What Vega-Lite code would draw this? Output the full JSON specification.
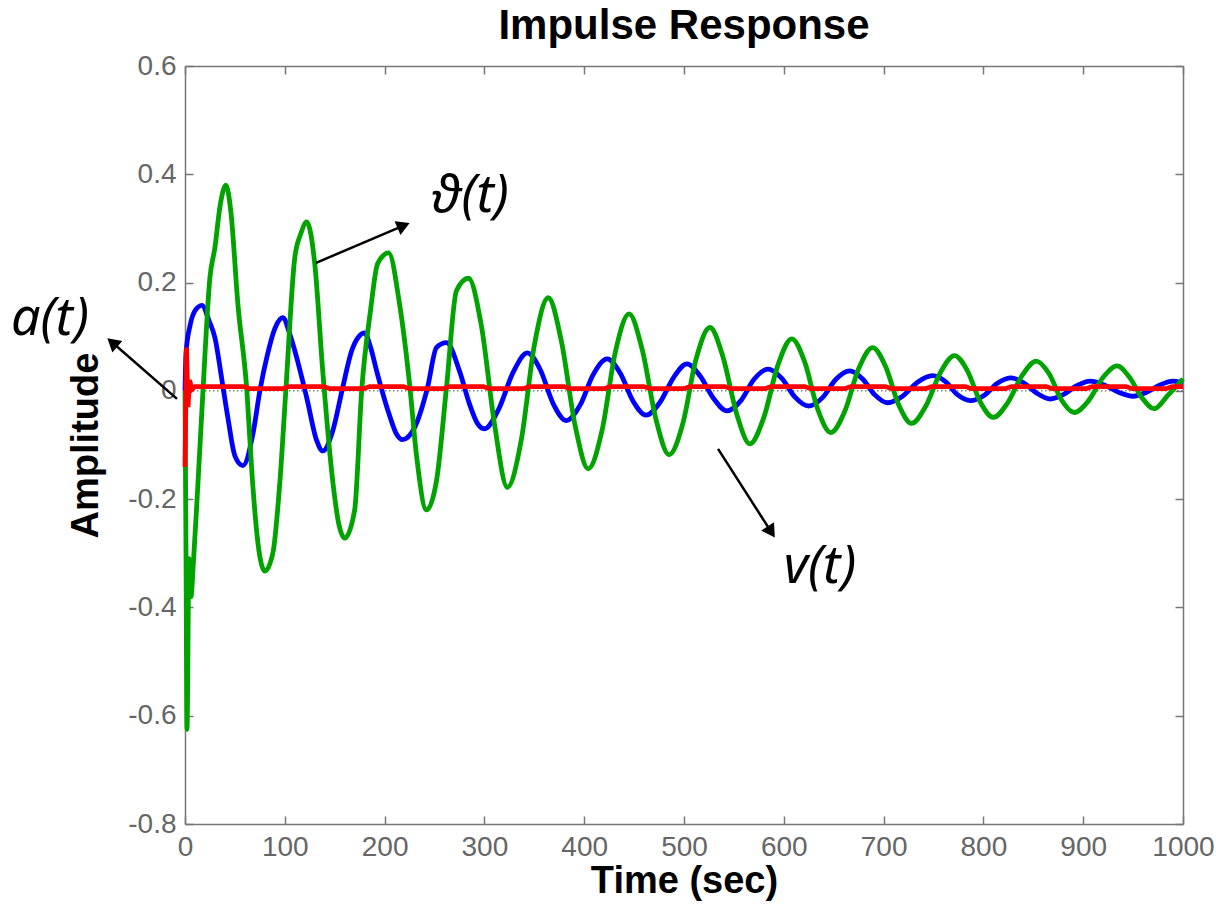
{
  "$schema": "https://vega.github.io/schema/vega-lite/v6.json",
  "width": 998,
  "height": 758,
  "autosize": {"type": "none"},
  "padding": {"left": 185, "top": 66, "right": 33, "bottom": 96},
  "background": "white",
  "config": {"view": {"stroke": null}, "font": "Liberation Sans"},
  "title": {"text": "Impulse Response", "font": "Liberation Sans", "fontSize": 42, "fontWeight": "bold", "color": "black", "anchor": "middle", "offset": 4},
  "datasets": {
    "zero": [{"t": 0, "y": 0}, {"t": 1000, "y": 0}],
    "series": [
      {"s": "v", "t": 0, "y": 0}, {"s": "v", "t": 1, "y": 0.07}, {"s": "v", "t": 5, "y": 0.12}, {"s": "v", "t": 10, "y": 0.148}, {"s": "v", "t": 17, "y": 0.158}, {"s": "v", "t": 24, "y": 0.13}, {"s": "v", "t": 30, "y": 0.098}, {"s": "v", "t": 37, "y": 0.02}, {"s": "v", "t": 43, "y": -0.05}, {"s": "v", "t": 50, "y": -0.12}, {"s": "v", "t": 58, "y": -0.138}, {"s": "v", "t": 68, "y": -0.08}, {"s": "v", "t": 75, "y": 0}, {"s": "v", "t": 82, "y": 0.062}, {"s": "v", "t": 90, "y": 0.115}, {"s": "v", "t": 98, "y": 0.135}, {"s": "v", "t": 105, "y": 0.105}, {"s": "v", "t": 112, "y": 0.061}, {"s": "v", "t": 122, "y": -0.013}, {"s": "v", "t": 132, "y": -0.092}, {"s": "v", "t": 138, "y": -0.111}, {"s": "v", "t": 148, "y": -0.074}, {"s": "v", "t": 158, "y": 0.006}, {"s": "v", "t": 167, "y": 0.074}, {"s": "v", "t": 174, "y": 0.1}, {"s": "v", "t": 180, "y": 0.107}, {"s": "v", "t": 186, "y": 0.08}, {"s": "v", "t": 192, "y": 0.037}, {"s": "v", "t": 204, "y": -0.04}, {"s": "v", "t": 212, "y": -0.08}, {"s": "v", "t": 218, "y": -0.09}, {"s": "v", "t": 230, "y": -0.068}, {"s": "v", "t": 243, "y": 0.006}, {"s": "v", "t": 252, "y": 0.08}, {"s": "v", "t": 262, "y": 0.089}, {"s": "v", "t": 275, "y": 0.037}, {"s": "v", "t": 285, "y": -0.024}, {"s": "v", "t": 293, "y": -0.06}, {"s": "v", "t": 300, "y": -0.07}, {"s": "v", "t": 314, "y": -0.035}, {"s": "v", "t": 329, "y": 0.035}, {"s": "v", "t": 343, "y": 0.07}, {"s": "v", "t": 356, "y": 0.039}, {"s": "v", "t": 369, "y": -0.024}, {"s": "v", "t": 382, "y": -0.055}, {"s": "v", "t": 396, "y": -0.026}, {"s": "v", "t": 409, "y": 0.03}, {"s": "v", "t": 423, "y": 0.059}, {"s": "v", "t": 436, "y": 0.033}, {"s": "v", "t": 449, "y": -0.019}, {"s": "v", "t": 462, "y": -0.045}, {"s": "v", "t": 476, "y": -0.021}, {"s": "v", "t": 490, "y": 0.026}, {"s": "v", "t": 503, "y": 0.05}, {"s": "v", "t": 516, "y": 0.028}, {"s": "v", "t": 530, "y": -0.015}, {"s": "v", "t": 543, "y": -0.037}, {"s": "v", "t": 557, "y": -0.018}, {"s": "v", "t": 570, "y": 0.021}, {"s": "v", "t": 584, "y": 0.04}, {"s": "v", "t": 598, "y": 0.023}, {"s": "v", "t": 611, "y": -0.011}, {"s": "v", "t": 625, "y": -0.028}, {"s": "v", "t": 639, "y": -0.012}, {"s": "v", "t": 652, "y": 0.021}, {"s": "v", "t": 666, "y": 0.037}, {"s": "v", "t": 679, "y": 0.022}, {"s": "v", "t": 691, "y": -0.007}, {"s": "v", "t": 704, "y": -0.022}, {"s": "v", "t": 719, "y": -0.01}, {"s": "v", "t": 734, "y": 0.016}, {"s": "v", "t": 749, "y": 0.028}, {"s": "v", "t": 762, "y": 0.017}, {"s": "v", "t": 774, "y": -0.007}, {"s": "v", "t": 787, "y": -0.018}, {"s": "v", "t": 801, "y": -0.008}, {"s": "v", "t": 814, "y": 0.014}, {"s": "v", "t": 828, "y": 0.024}, {"s": "v", "t": 841, "y": 0.014}, {"s": "v", "t": 854, "y": -0.005}, {"s": "v", "t": 867, "y": -0.015}, {"s": "v", "t": 880, "y": -0.007}, {"s": "v", "t": 894, "y": 0.01}, {"s": "v", "t": 907, "y": 0.018}, {"s": "v", "t": 921, "y": 0.011}, {"s": "v", "t": 936, "y": -0.003}, {"s": "v", "t": 950, "y": -0.01}, {"s": "v", "t": 963, "y": -0.003}, {"s": "v", "t": 977, "y": 0.011}, {"s": "v", "t": 990, "y": 0.018}, {"s": "v", "t": 1000, "y": 0.015},

      {"s": "theta", "t": 0, "y": 0}, {"s": "theta", "t": 1, "y": -0.3}, {"s": "theta", "t": 2, "y": -0.625}, {"s": "theta", "t": 4, "y": -0.31}, {"s": "theta", "t": 6, "y": -0.38}, {"s": "theta", "t": 8, "y": -0.33}, {"s": "theta", "t": 13, "y": -0.17}, {"s": "theta", "t": 18, "y": 0}, {"s": "theta", "t": 25, "y": 0.21}, {"s": "theta", "t": 30, "y": 0.265}, {"s": "theta", "t": 35, "y": 0.34}, {"s": "theta", "t": 41, "y": 0.38}, {"s": "theta", "t": 46, "y": 0.33}, {"s": "theta", "t": 53, "y": 0.16}, {"s": "theta", "t": 62, "y": 0}, {"s": "theta", "t": 67, "y": -0.15}, {"s": "theta", "t": 73, "y": -0.28}, {"s": "theta", "t": 80, "y": -0.333}, {"s": "theta", "t": 88, "y": -0.3}, {"s": "theta", "t": 95, "y": -0.17}, {"s": "theta", "t": 101, "y": 0}, {"s": "theta", "t": 110, "y": 0.246}, {"s": "theta", "t": 116, "y": 0.29}, {"s": "theta", "t": 122, "y": 0.312}, {"s": "theta", "t": 130, "y": 0.235}, {"s": "theta", "t": 138, "y": 0.037}, {"s": "theta", "t": 148, "y": -0.166}, {"s": "theta", "t": 154, "y": -0.245}, {"s": "theta", "t": 160, "y": -0.272}, {"s": "theta", "t": 170, "y": -0.22}, {"s": "theta", "t": 177, "y": 0}, {"s": "theta", "t": 186, "y": 0.15}, {"s": "theta", "t": 193, "y": 0.235}, {"s": "theta", "t": 204, "y": 0.255}, {"s": "theta", "t": 215, "y": 0.16}, {"s": "theta", "t": 225, "y": 0.013}, {"s": "theta", "t": 232, "y": -0.12}, {"s": "theta", "t": 242, "y": -0.22}, {"s": "theta", "t": 252, "y": -0.166}, {"s": "theta", "t": 262, "y": 0.006}, {"s": "theta", "t": 272, "y": 0.185}, {"s": "theta", "t": 284, "y": 0.208}, {"s": "theta", "t": 297, "y": 0.12}, {"s": "theta", "t": 310, "y": -0.06}, {"s": "theta", "t": 323, "y": -0.178}, {"s": "theta", "t": 337, "y": -0.09}, {"s": "theta", "t": 350, "y": 0.084}, {"s": "theta", "t": 364, "y": 0.172}, {"s": "theta", "t": 377, "y": 0.093}, {"s": "theta", "t": 391, "y": -0.065}, {"s": "theta", "t": 404, "y": -0.144}, {"s": "theta", "t": 418, "y": -0.072}, {"s": "theta", "t": 431, "y": 0.07}, {"s": "theta", "t": 445, "y": 0.142}, {"s": "theta", "t": 458, "y": 0.077}, {"s": "theta", "t": 472, "y": -0.053}, {"s": "theta", "t": 485, "y": -0.118}, {"s": "theta", "t": 499, "y": -0.059}, {"s": "theta", "t": 512, "y": 0.058}, {"s": "theta", "t": 526, "y": 0.117}, {"s": "theta", "t": 539, "y": 0.063}, {"s": "theta", "t": 553, "y": -0.044}, {"s": "theta", "t": 566, "y": -0.098}, {"s": "theta", "t": 580, "y": -0.049}, {"s": "theta", "t": 594, "y": 0.047}, {"s": "theta", "t": 608, "y": 0.096}, {"s": "theta", "t": 621, "y": 0.053}, {"s": "theta", "t": 634, "y": -0.034}, {"s": "theta", "t": 647, "y": -0.077}, {"s": "theta", "t": 661, "y": -0.038}, {"s": "theta", "t": 675, "y": 0.041}, {"s": "theta", "t": 689, "y": 0.08}, {"s": "theta", "t": 702, "y": 0.045}, {"s": "theta", "t": 715, "y": -0.025}, {"s": "theta", "t": 728, "y": -0.06}, {"s": "theta", "t": 742, "y": -0.029}, {"s": "theta", "t": 757, "y": 0.034}, {"s": "theta", "t": 771, "y": 0.065}, {"s": "theta", "t": 784, "y": 0.037}, {"s": "theta", "t": 797, "y": -0.021}, {"s": "theta", "t": 810, "y": -0.049}, {"s": "theta", "t": 824, "y": -0.023}, {"s": "theta", "t": 839, "y": 0.029}, {"s": "theta", "t": 853, "y": 0.055}, {"s": "theta", "t": 866, "y": 0.031}, {"s": "theta", "t": 878, "y": -0.016}, {"s": "theta", "t": 891, "y": -0.04}, {"s": "theta", "t": 905, "y": -0.019}, {"s": "theta", "t": 920, "y": 0.025}, {"s": "theta", "t": 934, "y": 0.046}, {"s": "theta", "t": 946, "y": 0.026}, {"s": "theta", "t": 959, "y": -0.013}, {"s": "theta", "t": 971, "y": -0.033}, {"s": "theta", "t": 985, "y": -0.008}, {"s": "theta", "t": 1000, "y": 0.022},

      {"s": "a", "t": 0, "y": -0.14}, {"s": "a", "t": 1.5, "y": 0.08}, {"s": "a", "t": 3, "y": -0.03}, {"s": "a", "t": 4.5, "y": 0.02}, {"s": "a", "t": 7, "y": 0.003}, {"s": "a", "t": 10, "y": 0.008}, {"s": "a", "t": 59, "y": 0.008}, {"s": "a", "t": 65, "y": 0.004}, {"s": "a", "t": 98, "y": 0.004}, {"s": "a", "t": 104, "y": 0.008}, {"s": "a", "t": 139, "y": 0.008}, {"s": "a", "t": 145, "y": 0.004}, {"s": "a", "t": 179, "y": 0.004}, {"s": "a", "t": 185, "y": 0.008}, {"s": "a", "t": 219, "y": 0.008}, {"s": "a", "t": 225, "y": 0.004}, {"s": "a", "t": 259, "y": 0.004}, {"s": "a", "t": 265, "y": 0.008}, {"s": "a", "t": 299, "y": 0.008}, {"s": "a", "t": 305, "y": 0.004}, {"s": "a", "t": 339, "y": 0.004}, {"s": "a", "t": 345, "y": 0.008}, {"s": "a", "t": 380, "y": 0.008}, {"s": "a", "t": 386, "y": 0.004}, {"s": "a", "t": 420, "y": 0.004}, {"s": "a", "t": 426, "y": 0.008}, {"s": "a", "t": 460, "y": 0.008}, {"s": "a", "t": 466, "y": 0.004}, {"s": "a", "t": 500, "y": 0.004}, {"s": "a", "t": 506, "y": 0.008}, {"s": "a", "t": 541, "y": 0.008}, {"s": "a", "t": 547, "y": 0.004}, {"s": "a", "t": 581, "y": 0.004}, {"s": "a", "t": 587, "y": 0.008}, {"s": "a", "t": 621, "y": 0.008}, {"s": "a", "t": 627, "y": 0.004}, {"s": "a", "t": 661, "y": 0.004}, {"s": "a", "t": 667, "y": 0.008}, {"s": "a", "t": 702, "y": 0.008}, {"s": "a", "t": 708, "y": 0.004}, {"s": "a", "t": 742, "y": 0.004}, {"s": "a", "t": 748, "y": 0.008}, {"s": "a", "t": 782, "y": 0.008}, {"s": "a", "t": 788, "y": 0.004}, {"s": "a", "t": 822, "y": 0.004}, {"s": "a", "t": 828, "y": 0.008}, {"s": "a", "t": 863, "y": 0.008}, {"s": "a", "t": 869, "y": 0.004}, {"s": "a", "t": 903, "y": 0.004}, {"s": "a", "t": 909, "y": 0.008}, {"s": "a", "t": 943, "y": 0.008}, {"s": "a", "t": 949, "y": 0.004}, {"s": "a", "t": 983, "y": 0.004}, {"s": "a", "t": 989, "y": 0.008}, {"s": "a", "t": 1000, "y": 0.008}
    ],
    "arrows": [
      {"id": "theta", "t": 131.3, "y": 0.2364, "t2": 219.0, "y2": 0.3053},
      {"id": "a", "t": -8.0, "y": -0.0148, "t2": -72.8, "y2": 0.0894},
      {"id": "v", "t": 534.1, "y": -0.1071, "t2": 587.4, "y2": -0.2606}
    ],
    "notes": [
      {"label": "ϑ(t)", "t": 285.6, "y": 0.36},
      {"label": "a(t)", "t": -135.3, "y": 0.133},
      {"label": "v(t)", "t": 636.3, "y": -0.325}
    ]
  },
  "layer": [
    {
      "data": {"name": "zero"},
      "mark": {"type": "line", "color": "#444444", "strokeWidth": 1, "strokeDash": [1.5, 2.5]},
      "encoding": {
        "x": {"field": "t", "type": "quantitative", "scale": {"domain": [0, 1000], "nice": false, "zero": false},
          "axis": {"orient": "top", "labels": false, "title": null, "values": [0, 100, 200, 300, 400, 500, 600, 700, 800, 900, 1000], "tickSize": -8, "tickColor": "#777777", "tickWidth": 1.5, "domainColor": "#777777", "domainWidth": 1.5, "grid": false}},
        "y": {"field": "y", "type": "quantitative", "scale": {"domain": [-0.8, 0.6], "nice": false, "zero": false},
          "axis": {"orient": "right", "labels": false, "title": null, "values": [-0.8, -0.6, -0.4, -0.2, 0, 0.2, 0.4, 0.6], "tickSize": -8, "tickColor": "#777777", "tickWidth": 1.5, "domainColor": "#777777", "domainWidth": 1.5, "grid": false}}
      }
    },
    {
      "data": {"name": "series"},
      "transform": [{"filter": "datum.s === 'v'"}],
      "mark": {"type": "line", "color": "#0000FF", "strokeWidth": 4.8, "interpolate": "monotone"},
      "encoding": {
        "x": {"field": "t", "type": "quantitative",
          "axis": {"orient": "bottom", "values": [0, 100, 200, 300, 400, 500, 600, 700, 800, 900, 1000], "format": "d", "tickSize": -8, "tickColor": "#777777", "tickWidth": 1.5, "domainColor": "#777777", "domainWidth": 1.5, "grid": false, "labelFont": "Liberation Sans", "labelFontSize": 28, "labelColor": "#666666", "labelPadding": 17, "labelFlush": false, "labelOverlap": false, "title": "Time (sec)", "titleFont": "Liberation Sans", "titleFontSize": 38, "titleFontWeight": "bold", "titleColor": "#000000", "titlePadding": 1}},
        "y": {"field": "y", "type": "quantitative",
          "axis": {"orient": "left", "values": [-0.8, -0.6, -0.4, -0.2, 0, 0.2, 0.4, 0.6], "labelExpr": "replace(format(datum.value, '.1~f'), '\u2212', '-')", "tickSize": -8, "tickColor": "#777777", "tickWidth": 1.5, "domainColor": "#777777", "domainWidth": 1.5, "grid": false, "labelFont": "Liberation Sans", "labelFontSize": 28, "labelColor": "#666666", "labelPadding": 17, "labelFlush": false, "labelOverlap": false, "title": "Amplitude", "titleFont": "Liberation Sans", "titleFontSize": 38, "titleFontWeight": "bold", "titleColor": "#000000", "titlePadding": 22}}
      }
    },
    {
      "data": {"name": "series"},
      "transform": [{"filter": "datum.s === 'theta'"}],
      "mark": {"type": "line", "color": "#00A300", "strokeWidth": 4.8, "interpolate": "monotone"},
      "encoding": {
        "x": {"field": "t", "type": "quantitative", "axis": null},
        "y": {"field": "y", "type": "quantitative", "axis": null}
      }
    },
    {
      "data": {"name": "series"},
      "transform": [{"filter": "datum.s === 'a'"}],
      "mark": {"type": "line", "color": "#FF0000", "strokeWidth": 4.8},
      "encoding": {
        "x": {"field": "t", "type": "quantitative", "axis": null},
        "y": {"field": "y", "type": "quantitative", "axis": null}
      }
    },
    {
      "data": {"name": "arrows"},
      "mark": {"type": "rule", "color": "#000000", "strokeWidth": 2.5},
      "encoding": {
        "x": {"field": "t", "type": "quantitative", "axis": null},
        "y": {"field": "y", "type": "quantitative", "axis": null},
        "x2": {"field": "t2"},
        "y2": {"field": "y2"}
      }
    },
    {
      "data": {"name": "arrows"},
      "transform": [{"filter": "datum.id === 'theta'"}],
      "mark": {"type": "point", "shape": "triangle-right", "filled": true, "color": "#000000", "opacity": 1, "size": 230, "angle": 337},
      "encoding": {
        "x": {"field": "t2", "type": "quantitative", "axis": null},
        "y": {"field": "y2", "type": "quantitative", "axis": null}
      }
    },
    {
      "data": {"name": "arrows"},
      "transform": [{"filter": "datum.id === 'a'"}],
      "mark": {"type": "point", "shape": "triangle-right", "filled": true, "color": "#000000", "opacity": 1, "size": 230, "angle": 221},
      "encoding": {
        "x": {"field": "t2", "type": "quantitative", "axis": null},
        "y": {"field": "y2", "type": "quantitative", "axis": null}
      }
    },
    {
      "data": {"name": "arrows"},
      "transform": [{"filter": "datum.id === 'v'"}],
      "mark": {"type": "point", "shape": "triangle-right", "filled": true, "color": "#000000", "opacity": 1, "size": 230, "angle": 57},
      "encoding": {
        "x": {"field": "t2", "type": "quantitative", "axis": null},
        "y": {"field": "y2", "type": "quantitative", "axis": null}
      }
    },
    {
      "data": {"name": "notes"},
      "mark": {"type": "text", "font": "Noto Sans", "fontStyle": "italic", "fontSize": 52, "color": "#000000", "align": "center", "baseline": "middle"},
      "encoding": {
        "x": {"field": "t", "type": "quantitative", "axis": null},
        "y": {"field": "y", "type": "quantitative", "axis": null},
        "text": {"field": "label"}
      }
    }
  ],
  "resolve": {"axis": {"x": "independent", "y": "independent"}}
}
